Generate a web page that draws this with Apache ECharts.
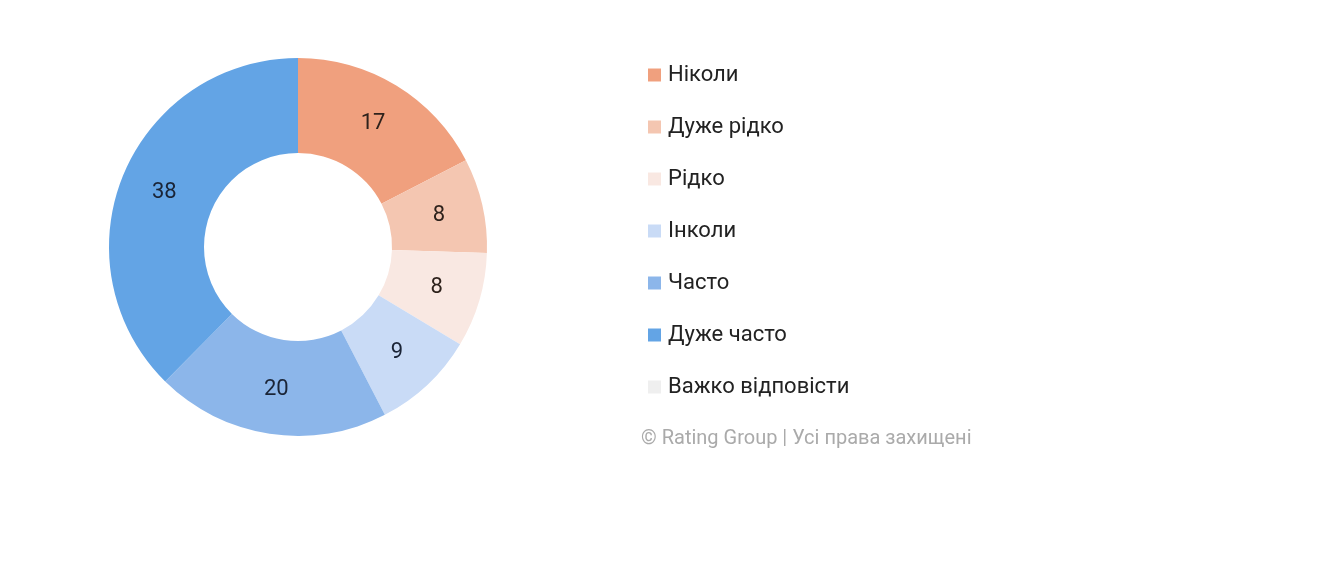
<!DOCTYPE html>
<html>
<head>
<meta charset="utf-8">
<script src="https://cdn.jsdelivr.net/npm/echarts@6/dist/echarts.min.js"></script>
<style>
html,body{margin:0;padding:0;background:#fff;}
#main{width:1320px;height:565px;}
</style>
</head>
<body>
<div id="main"></div>
<script>
const categories = ['Ніколи','Дуже рідко','Рідко','Інколи','Часто','Дуже часто','Важко відповісти'];
const values = [17.4, 8.1, 8.1, 8.8, 20.0, 37.6, 0];
const colors = ['#f0a07e','#f4c6b1','#f9e8e2','#c9dbf6','#8cb6ea','#63a4e5','#efefef'];
const labelColors = ['#2e221c','#2e221c','#2e221c','#1a2436','#1a2436','#1a2436','#333'];
const copyright = '© Rating Group | Усі права захищені';

const chart = echarts.init(document.getElementById('main'));
chart.setOption({
  animation: false,
  color: colors,
  legend: {
    orient: 'vertical',
    left: 643,
    top: 57,
    itemWidth: 13,
    itemHeight: 13,
    itemGap: 26,
    icon: 'rect',
    textStyle: { fontFamily: 'Roboto', fontSize: 22, color: '#222222', lineHeight: 26, padding: [0,0,0,2] },
    data: categories
  },
  graphic: [{
    type: 'text',
    left: 641,
    top: 429,
    style: { text: copyright, fill: '#aaaaaa', fontFamily: 'Roboto', fontSize: 20 }
  }],
  series: [{
    type: 'pie',
    center: [298, 247],
    radius: [94, 189],
    startAngle: 90,
    clockwise: true,
    avoidLabelOverlap: false,
    label: {
      show: true,
      position: 'inside',
      fontFamily: 'Roboto',
      fontSize: 22,
      formatter: p => p.value > 0 ? String(Math.round(p.value)) : ''
    },
    labelLine: { show: false },
    emphasis: { disabled: true },
    data: categories.map((c, i) => ({
      name: c,
      value: values[i],
      itemStyle: { color: colors[i] },
      label: { color: labelColors[i] }
    }))
  }]
});
</script>
</body>
</html>
